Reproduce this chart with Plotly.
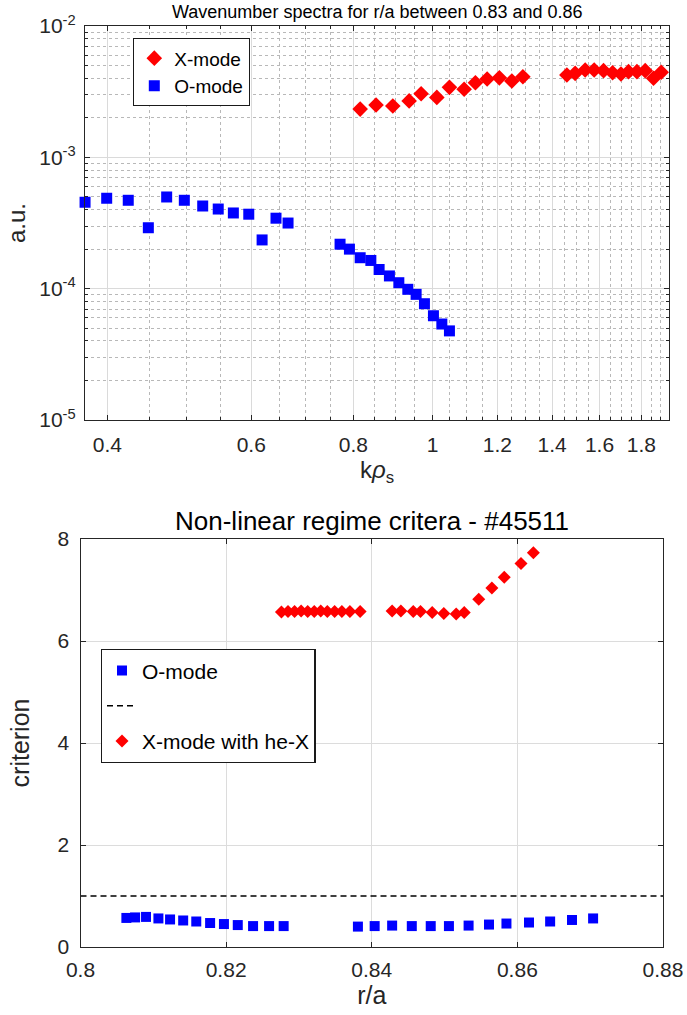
import plotly.graph_objects as go

# ---------------- Wavenumber spectra, r/a between 0.83 and 0.86 ----------------
x_mode_k = [0.8154, 0.8527, 0.8939, 0.9360, 0.9681, 1.0119, 1.0485, 1.0928, 1.1281,
            1.1659, 1.2068, 1.2500, 1.2895,
            1.4596, 1.4941, 1.5368, 1.5762, 1.6184, 1.6600, 1.6998, 1.7365, 1.7779,
            1.8199, 1.8630, 1.9038, 1.9477]
x_mode_amp = [2.33e-3, 2.50e-3, 2.46e-3, 2.69e-3, 3.05e-3, 2.86e-3, 3.41e-3, 3.30e-3, 3.70e-3,
              3.95e-3, 4.03e-3, 3.81e-3, 4.11e-3,
              4.23e-3, 4.36e-3, 4.62e-3, 4.62e-3, 4.57e-3, 4.41e-3, 4.31e-3, 4.49e-3, 4.49e-3,
              4.57e-3, 4.00e-3, 4.44e-3, 4.49e-3]

o_mode_k = [0.3757, 0.3993, 0.4243, 0.4490, 0.4728, 0.4969, 0.5233, 0.5467, 0.5705,
            0.5958, 0.6186, 0.6433, 0.6655,
            0.7705, 0.7911, 0.8154, 0.8403, 0.8601, 0.8854, 0.9092, 0.9325, 0.9546,
            0.9772, 1.0023, 1.0263, 1.0485]
o_mode_amp = [4.55e-4, 4.88e-4, 4.71e-4, 2.91e-4, 4.99e-4, 4.71e-4, 4.26e-4, 4.04e-4, 3.77e-4,
              3.69e-4, 2.35e-4, 3.44e-4, 3.16e-4,
              2.18e-4, 2.00e-4, 1.72e-4, 1.64e-4, 1.40e-4, 1.25e-4, 1.11e-4, 9.89e-5, 9.05e-5,
              7.68e-5, 6.22e-5, 5.38e-5, 4.77e-5]

k_tick_vals = [0.4, 0.6, 0.8, 1.0, 1.2, 1.4, 1.6, 1.8]
k_tick_text = ["0.4", "0.6", "0.8", "1", "1.2", "1.4", "1.6", "1.8"]
k_minor_vals = [0.45, 0.5, 0.55, 0.65, 0.7, 0.75, 0.85, 0.9, 0.95, 1.05, 1.1, 1.15,
                1.25, 1.3, 1.35, 1.45, 1.5, 1.55, 1.65, 1.7, 1.75, 1.85, 1.9]
amp_tick_vals = [1e-5, 1e-4, 1e-3, 1e-2]
amp_tick_text = ["10<sup>-5</sup>", "10<sup>-4</sup>", "10<sup>-3</sup>", "10<sup>-2</sup>"]
amp_minor_vals = [m * 10.0 ** e for e in (-5, -4, -3) for m in range(2, 10)]

# ---------------- Non-linear regime criteria, shot #45511 ----------------
o_ra = [0.8063, 0.8075, 0.8090, 0.8107, 0.8123, 0.8141, 0.8159, 0.8178, 0.8197,
        0.8216, 0.8237, 0.8259, 0.8279,
        0.8381, 0.8404, 0.8428, 0.8455, 0.8481, 0.8506, 0.8533, 0.8561, 0.8585,
        0.8616, 0.8645, 0.8675, 0.8704]
o_crit = [0.57, 0.58, 0.59, 0.56, 0.54, 0.52, 0.50, 0.47, 0.45,
          0.43, 0.41, 0.41, 0.41,
          0.40, 0.41, 0.42, 0.41, 0.41, 0.41, 0.42, 0.44, 0.46,
          0.48, 0.50, 0.53, 0.56]

x_ra = [0.8276, 0.8285, 0.8294, 0.8303, 0.8312, 0.8321, 0.8330, 0.8339, 0.8349,
        0.8359, 0.8370, 0.8384,
        0.8428, 0.8440, 0.8457, 0.8467, 0.8483, 0.8499, 0.8516, 0.8527, 0.8547,
        0.8565, 0.8582, 0.8605, 0.8622]
x_crit = [6.57, 6.58, 6.58, 6.59, 6.58, 6.58, 6.59, 6.58, 6.58,
          6.58, 6.58, 6.58,
          6.59, 6.59, 6.58, 6.58, 6.56, 6.54, 6.53, 6.56, 6.82,
          7.04, 7.25, 7.52, 7.73]

threshold_ra = [0.8, 0.88]
threshold_val = [1.0, 1.0]

RED = "#ff0000"
BLUE = "#0000ff"
AXIS = "#262626"
FONT = "Liberation Sans, Arial, Helvetica, sans-serif"

fig = go.Figure()

# upper panel
fig.add_trace(go.Scatter(
    x=x_mode_k, y=x_mode_amp, mode="markers", name="X-mode",
    marker=dict(symbol="diamond", size=12, color=RED, line=dict(width=0)),
    xaxis="x", yaxis="y", legend="legend", cliponaxis=False))
fig.add_trace(go.Scatter(
    x=o_mode_k, y=o_mode_amp, mode="markers", name="O-mode",
    marker=dict(symbol="square", size=11, color=BLUE, line=dict(width=0)),
    xaxis="x", yaxis="y", legend="legend", cliponaxis=False))

# lower panel
fig.add_trace(go.Scatter(
    x=o_ra, y=o_crit, mode="markers", name="O-mode", legendgroup="a",
    marker=dict(symbol="square", size=10, color=BLUE, line=dict(width=0)),
    xaxis="x2", yaxis="y2", legend="legend2", cliponaxis=False))
fig.add_trace(go.Scatter(
    x=threshold_ra, y=threshold_val, mode="lines", name=" ", legendgroup="b",
    line=dict(color="black", width=1.3, dash="6px,4px"),
    xaxis="x2", yaxis="y2", legend="legend2"))
fig.add_trace(go.Scatter(
    x=x_ra, y=x_crit, mode="markers", name="X-mode with he-X", legendgroup="c",
    marker=dict(symbol="diamond", size=10, color=RED, line=dict(width=0)),
    xaxis="x2", yaxis="y2", legend="legend2", cliponaxis=False))

W, H = 687, 1015


def px_x(p):
    return p / W


def px_y(p):
    return 1 - p / H


common_axis = dict(
    showline=True, linecolor=AXIS, linewidth=1.3, mirror="allticks",
    ticks="inside", ticklen=5, tickcolor=AXIS, tickwidth=1,
    tickfont=dict(family=FONT, size=21, color=AXIS),
    zeroline=False, automargin=False,
)

fig.update_layout(
    width=W, height=H,
    margin=dict(l=0, r=0, t=0, b=0),
    paper_bgcolor="white", plot_bgcolor="white",
    font=dict(family=FONT, size=21, color=AXIS),
    xaxis=dict(
        **common_axis, type="log", domain=[px_x(85), px_x(669.3)],
        range=[-0.42523, 0.28952], anchor="y",
        tickmode="array", tickvals=k_tick_vals, ticktext=k_tick_text,
        showgrid=True, gridcolor="#dadada", gridwidth=1,
        minor=dict(tickmode="array", tickvals=k_minor_vals, ticks="inside", ticklen=3,
                   tickcolor=AXIS, showgrid=True, gridcolor="#b8b8b8", griddash="dot",
                   gridwidth=1),
        ticklabelstandoff=6,
        title=dict(text="k<i>\u03c1</i><sub>s</sub>", font=dict(family=FONT, size=24, color=AXIS),
                   standoff=3),
    ),
    yaxis=dict(
        **common_axis, type="log", domain=[px_y(420), px_y(26)],
        range=[-5, -2], anchor="x",
        tickmode="array", tickvals=amp_tick_vals, ticktext=amp_tick_text,
        showgrid=True, gridcolor="#dadada", gridwidth=1,
        minor=dict(tickmode="array", tickvals=amp_minor_vals, ticks="inside", ticklen=3,
                   tickcolor=AXIS, showgrid=True, gridcolor="#b8b8b8", griddash="dot",
                   gridwidth=1),
        ticklabelstandoff=4,
        title=dict(text="a.u.", font=dict(family=FONT, size=24, color=AXIS), standoff=6),
    ),
    xaxis2=dict(
        **common_axis, domain=[px_x(80.5), px_x(663)], range=[0.8, 0.88], anchor="y2",
        tickmode="array", tickvals=[0.8, 0.82, 0.84, 0.86, 0.88],
        ticktext=["0.8", "0.82", "0.84", "0.86", "0.88"],
        showgrid=True, gridcolor="#dcdcdc", gridwidth=1,
        ticklabelstandoff=4,
        title=dict(text="r/a", font=dict(family=FONT, size=25, color=AXIS), standoff=6),
    ),
    yaxis2=dict(
        **common_axis, domain=[px_y(947), px_y(539)], range=[0, 8], anchor="x2",
        tickmode="array", tickvals=[0, 2, 4, 6, 8],
        ticklabelstandoff=6,
        showgrid=True, gridcolor="#dcdcdc", gridwidth=1,
        title=dict(text="criterion", font=dict(family=FONT, size=25, color=AXIS), standoff=20),
    ),
    legend=dict(
        x=px_x(133), y=px_y(38), xanchor="left", yanchor="top",
        bgcolor="white", bordercolor="#1a1a1a", borderwidth=1.3,
        font=dict(family=FONT, size=19, color="black"),
        itemwidth=30, tracegroupgap=0,
    ),
    legend2=dict(
        x=px_x(100.7), y=px_y(649), xanchor="left", yanchor="top",
        bgcolor="white", bordercolor="#1a1a1a", borderwidth=1.3,
        font=dict(family=FONT, size=21, color="black"),
        itemwidth=30, traceorder="grouped", tracegroupgap=5,
    ),
    annotations=[
        dict(text="Wavenumber spectra for r/a between 0.83 and 0.86",
             x=(px_x(85) + px_x(669.3)) / 2, y=px_y(12), xref="paper", yref="paper",
             xanchor="center", yanchor="middle", showarrow=False,
             font=dict(family=FONT, size=18, color="black")),
        dict(text="Non-linear regime critera - #45511",
             x=(px_x(80.5) + px_x(663)) / 2, y=px_y(521), xref="paper", yref="paper",
             xanchor="center", yanchor="middle", showarrow=False,
             font=dict(family=FONT, size=26, color="black")),
    ],
)

fig.write_html("out.html")
